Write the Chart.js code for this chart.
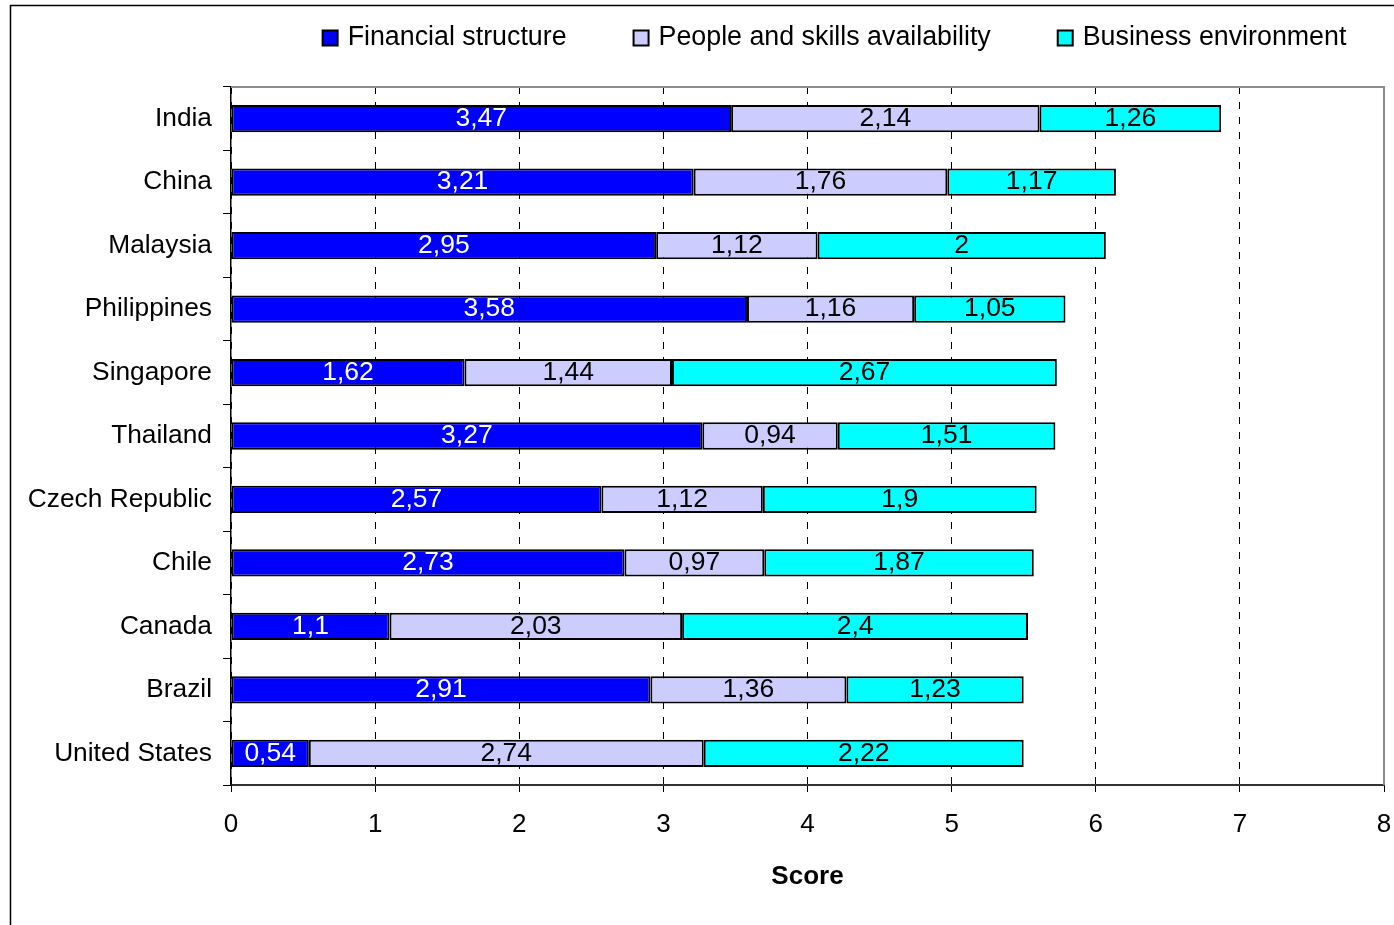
<!DOCTYPE html>
<html>
<head>
<meta charset="utf-8">
<script src="https://cdn.jsdelivr.net/npm/chart.js@4.4.1/dist/chart.umd.min.js"></script>
<style>
  html, body { margin: 0; padding: 0; background: #fff; }
  #wrap { width: 1394px; height: 925px; }
</style>
</head>
<body>
<div id="wrap"><canvas id="scoreChart" width="1394" height="925"></canvas></div>
<script>
const countries = ['India', 'China', 'Malaysia', 'Philippines', 'Singapore', 'Thailand',
    'Czech Republic', 'Chile', 'Canada', 'Brazil', 'United States'];
const financial = [3.47, 3.21, 2.95, 3.58, 1.62, 3.27, 2.57, 2.73, 1.1, 2.91, 0.54];
const people = [2.14, 1.76, 1.12, 1.16, 1.44, 0.94, 1.12, 0.97, 2.03, 1.36, 2.74];
const business = [1.26, 1.17, 2, 1.05, 2.67, 1.51, 1.9, 1.87, 2.4, 1.23, 2.22];
const seriesNames = ['Financial structure', 'People and skills availability', 'Business environment'];
const seriesColors = ['#0000ff', '#ccccff', '#00ffff'];
const labelColors = ['#ffffff', '#000000', '#000000'];

const FONT = '"Liberation Sans", Arial, sans-serif';

// white background + outer frame (top and left edge only visible)
const framePlugin = {
    id: 'frame',
    beforeDraw(chart) {
        const ctx = chart.ctx;
        ctx.save();
        ctx.fillStyle = '#fff';
        ctx.fillRect(0, 0, chart.width, chart.height);
        ctx.strokeStyle = '#000';
        ctx.lineWidth = 1.5;
        ctx.beginPath();
        ctx.moveTo(10.5, chart.height);
        ctx.lineTo(10.5, 5.5);
        ctx.lineTo(chart.width, 5.5);
        ctx.stroke();
        ctx.restore();
    },
    beforeDatasetsDraw(chart) {
        // gray plot frame on top and right
        const a = chart.chartArea;
        const ctx = chart.ctx;
        ctx.save();
        ctx.strokeStyle = '#8c8c8c';
        ctx.lineWidth = 2;
        ctx.beginPath();
        ctx.moveTo(a.left, a.top);
        ctx.lineTo(a.right, a.top);
        ctx.lineTo(a.right, a.bottom);
        ctx.stroke();
        ctx.restore();
    }
};

// value labels centred in each segment, decimal comma
const valueLabels = {
    id: 'valueLabels',
    afterDatasetsDraw(chart) {
        const ctx = chart.ctx;
        ctx.save();
        ctx.font = '26.5px ' + FONT;
        ctx.textAlign = 'center';
        ctx.textBaseline = 'middle';
        chart.data.datasets.forEach((ds, di) => {
            const meta = chart.getDatasetMeta(di);
            ctx.fillStyle = labelColors[di];
            meta.data.forEach((bar, i) => {
                const txt = String(ds.data[i]).replace('.', ',');
                ctx.fillText(txt, (bar.x + bar.base) / 2, bar.y);
            });
        });
        ctx.restore();
    }
};

// legend row across the top
const topLegend = {
    id: 'topLegend',
    afterDraw(chart) {
        const ctx = chart.ctx;
        const box = 15, gapText = 10, gapItem = 67, cy = 38, centre = 834.5;
        ctx.save();
        ctx.font = '26.8px ' + FONT;
        ctx.textBaseline = 'middle';
        const items = chart.data.datasets.map(ds => ({
            text: ds.label, color: ds.backgroundColor,
            w: box + gapText + ctx.measureText(ds.label).width
        }));
        const total = items.reduce((s, it) => s + it.w, 0) + gapItem * (items.length - 1);
        let x = centre - total / 2;
        items.forEach(it => {
            ctx.fillStyle = it.color;
            ctx.fillRect(x, cy - box / 2, box, box);
            ctx.strokeStyle = '#000';
            ctx.lineWidth = 2;
            ctx.strokeRect(x, cy - box / 2, box, box);
            ctx.fillStyle = '#000';
            ctx.fillText(it.text, x + box + gapText, cy);
            x += it.w + gapItem;
        });
        ctx.restore();
    }
};

const datasets = [financial, people, business].map((vals, i) => ({
    label: seriesNames[i],
    data: vals,
    backgroundColor: seriesColors[i],
    borderColor: '#000',
    borderWidth: 2,
    borderSkipped: false,
    categoryPercentage: 1.0,
    barPercentage: 0.43
}));

const ctx = document.getElementById('scoreChart').getContext('2d');
const chart = new Chart(ctx, {
    type: 'bar',
    data: { labels: countries, datasets: datasets },
    plugins: [framePlugin, valueLabels, topLegend],
    options: {
        indexAxis: 'y',
        responsive: false,
        animation: false,
        events: [],
        layout: { padding: { left: 12, top: 87, right: 10, bottom: 0 } },
        plugins: {
            legend: { display: false },
            tooltip: { enabled: false }
        },
        scales: {
            x: {
                type: 'linear',
                stacked: true,
                min: 0,
                max: 8,
                ticks: {
                    stepSize: 1,
                    color: '#000',
                    padding: 17,
                    font: { family: FONT, size: 26 }
                },
                grid: {
                    color: '#000',
                    lineWidth: 1,
                    tickColor: '#000',
                    tickLength: 7
                },
                border: { color: '#333', width: 2, dash: [7, 8] },
                title: {
                    display: true,
                    text: 'Score',
                    color: '#000',
                    font: { family: FONT, size: 26, weight: 'bold' },
                    padding: { top: 0, bottom: 33 }
                },
                afterFit(scale) {
                    scale.height = 140;
                    scale.paddingLeft = 0;
                    scale.paddingRight = 0;
                }
            },
            y: {
                stacked: true,
                ticks: {
                    color: '#000',
                    padding: 11,
                    font: { family: FONT, size: 26.3 }
                },
                grid: {
                    drawOnChartArea: false,
                    color: '#000',
                    tickColor: '#000',
                    tickLength: 8
                },
                border: { color: '#000', width: 1.5 },
                afterFit(scale) { scale.width = 219; }
            }
        }
    }
});
</script>
</body>
</html>
